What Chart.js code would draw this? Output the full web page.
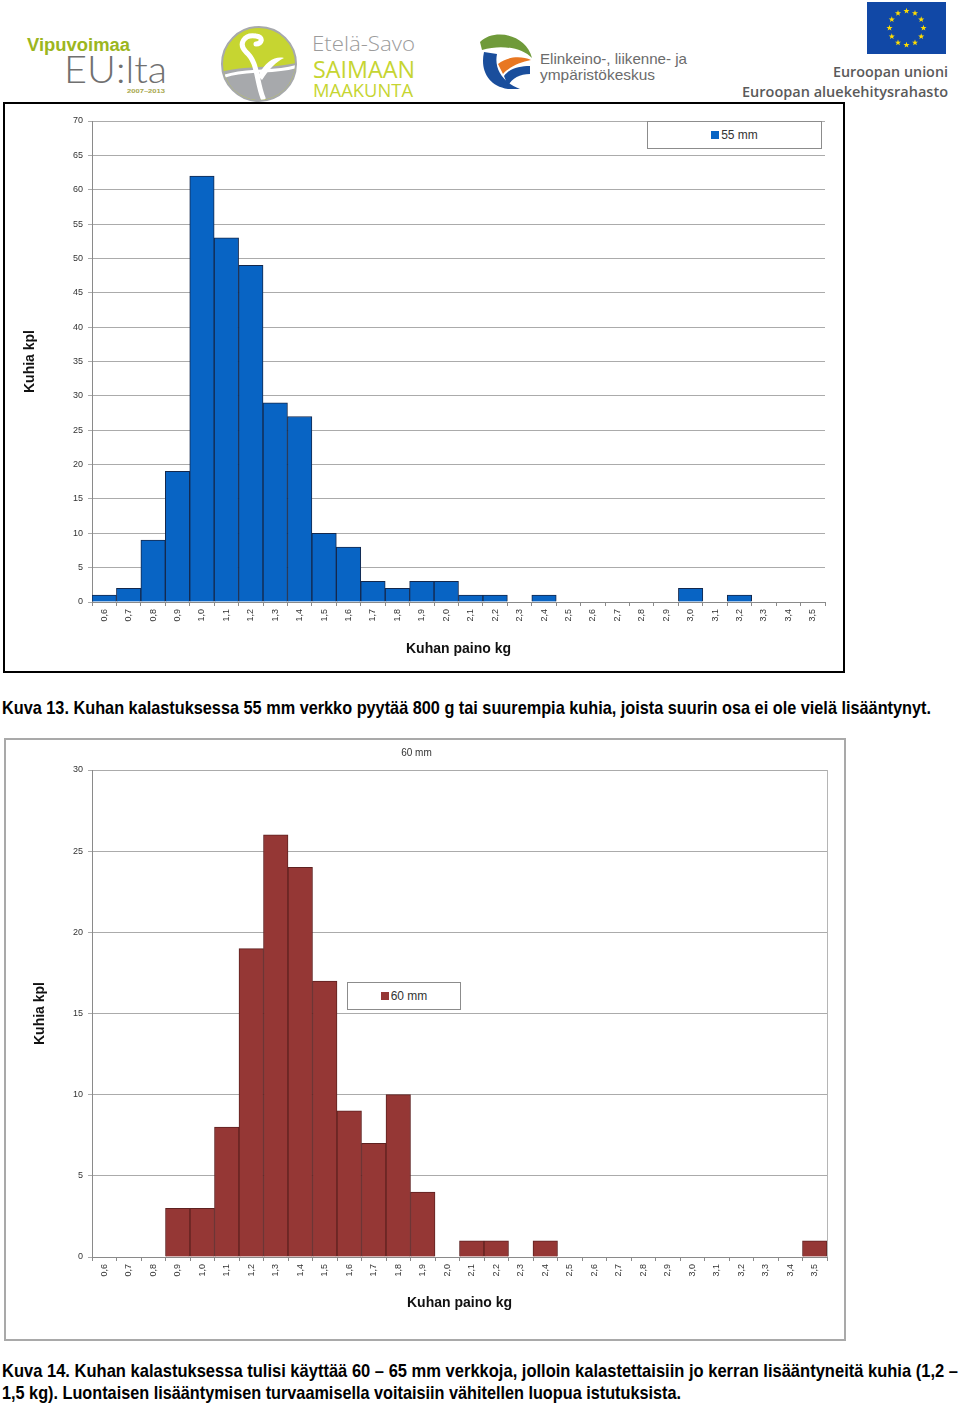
<!DOCTYPE html>
<html>
<head>
<meta charset="utf-8">
<script src="https://cdn.jsdelivr.net/npm/chart.js@4.4.1/dist/chart.umd.min.js"></script>
<style>
  body { margin: 0; background: #fff; width: 960px; height: 1406px; position: relative; overflow: hidden;
         font-family: "Liberation Sans", Arial, sans-serif; }
  .frame { position: absolute; box-sizing: content-box; }
  #frame1 { left: 3px; top: 102px; width: 838px; height: 567px; border: 2px solid #000; }
  #frame2 { left: 4px; top: 738px; width: 838px; height: 599px; border: 2px solid #a9a9a9; }
  .legend { position: absolute; background: #fff; border: 1px solid #8c8c8c; box-sizing: border-box;
            font: 12px "Liberation Sans", Arial, sans-serif; color: #333;
            display: flex; align-items: center; justify-content: center; }
  .legend i { display: inline-block; width: 8px; height: 8px; margin-right: 2px; }
  svg { position: absolute; left: 0; }
</style>
</head>
<body>

<!-- logo strip -->
<svg id="logos" width="960" height="102" style="top:0">
  <text x="27" y="51" font-family="Liberation Sans" font-weight="bold" font-size="18" fill="#9cb620"
        textLength="103" lengthAdjust="spacingAndGlyphs">Vipuvoimaa</text>
  <text x="64" y="83" font-family="Lato" font-weight="300" font-size="38" fill="#707070"
        textLength="103" lengthAdjust="spacingAndGlyphs">EU:lta</text>
  <text x="127" y="93" font-family="Liberation Sans" font-weight="bold" font-size="6" fill="#a6a64a"
        textLength="38" lengthAdjust="spacingAndGlyphs">2007–2013</text>

  <clipPath id="disc"><circle cx="259" cy="64" r="36"/></clipPath>
  <circle cx="259" cy="64" r="37" fill="#c6d531" stroke="#a7a9ac" stroke-width="2"/>
  <g clip-path="url(#disc)">
    <path d="M215,74 C240,64 270,70 300,62 L300,110 L215,110 Z" fill="#a7a9ac"/>
    <path d="M225,76 C250,68 275,74 298,66" stroke="#fff" stroke-width="3" fill="none"/>
    <path d="M263,98 C256,80 258,62 246,52 C238,44 244,34 256,36 C264,37 262,44 256,44"
          stroke="#fff" stroke-width="5" fill="none" stroke-linecap="round"/>
    <path d="M258,76 C266,60 276,56 284,58 C276,62 270,68 262,80 Z" fill="#fff"/>
  </g>
  <text x="312" y="51" font-family="Open Sans" font-weight="300" font-size="20" fill="#9b9b9b"
        textLength="103" lengthAdjust="spacingAndGlyphs">Etelä-Savo</text>
  <text x="313" y="78" font-family="Open Sans" font-size="23" fill="#c6d531"
        textLength="102" lengthAdjust="spacingAndGlyphs">SAIMAAN</text>
  <text x="313" y="97" font-family="Open Sans" font-size="19" fill="#c6d531"
        textLength="100" lengthAdjust="spacingAndGlyphs">MAAKUNTA</text>

  <path d="M480,42 C494,28 526,34 532,58 C522,48 502,44 482,50 Z" fill="#6f9a3a"/>
  <path d="M498,64 C508,56 522,56 531,60 C520,62 509,67 503,74 Z" fill="#e87722"/>
  <path d="M484,52 C480,70 488,86 508,89 L520,89 C502,82 494,68 497,54 Z" fill="#1a4e9c"/>
  <path d="M504,76 C510,68 520,66 530,66 L530,74 C520,74 512,78 508,86 Z" fill="#1a4e9c"/>
  <text x="540" y="64" font-family="Liberation Sans" font-size="15" fill="#6b6b6b"
        textLength="147" lengthAdjust="spacingAndGlyphs">Elinkeino-, liikenne- ja</text>
  <text x="540" y="80" font-family="Liberation Sans" font-size="15" fill="#6b6b6b"
        textLength="115" lengthAdjust="spacingAndGlyphs">ympäristökeskus</text>

  <rect x="867" y="2" width="79" height="52" fill="#1148a6"/>
  <g id="stars" fill="#ffdd00"></g>
  <text x="948" y="77" text-anchor="end" font-family="Open Sans" font-weight="600" font-size="14" fill="#5a5a5a"
        textLength="115" lengthAdjust="spacingAndGlyphs">Euroopan unioni</text>
  <text x="948" y="97" text-anchor="end" font-family="Open Sans" font-weight="600" font-size="14" fill="#5a5a5a"
        textLength="206" lengthAdjust="spacingAndGlyphs">Euroopan aluekehitysrahasto</text>
</svg>

<div class="frame" id="frame1"><canvas id="chart55"></canvas></div>
<div class="legend" id="legend55" style="left:647px;top:121px;width:175px;height:28px"></div>

<div class="frame" id="frame2"><canvas id="chart60"></canvas></div>
<div class="legend" id="legend60" style="left:347px;top:982px;width:114px;height:28px"></div>

<svg width="960" height="30" style="top:692px">
  <text x="2" y="22" font-family="Liberation Sans Narrow, Liberation Sans" font-weight="bold" font-size="19" fill="#000"
        textLength="929" lengthAdjust="spacingAndGlyphs">Kuva 13. Kuhan kalastuksessa 55 mm verkko pyytää 800 g tai suurempia kuhia, joista suurin osa ei ole vielä lisääntynyt.</text>
</svg>
<svg width="960" height="52" style="top:1354px">
  <text x="2" y="23" font-family="Liberation Sans Narrow, Liberation Sans" font-weight="bold" font-size="19" fill="#000"
        textLength="956" lengthAdjust="spacingAndGlyphs">Kuva 14. Kuhan kalastuksessa tulisi käyttää 60 – 65 mm verkkoja, jolloin kalastettaisiin jo kerran lisääntyneitä kuhia (1,2 –</text>
  <text x="2" y="45" font-family="Liberation Sans Narrow, Liberation Sans" font-weight="bold" font-size="19" fill="#000"
        textLength="679" lengthAdjust="spacingAndGlyphs">1,5 kg). Luontaisen lisääntymisen turvaamisella voitaisiin vähitellen luopua istutuksista.</text>
</svg>

<script>
// weight classes (kg), as printed under the bars
const weights = ["0,6", "0,7", "0,8", "0,9", "1,0", "1,1", "1,2", "1,3", "1,4", "1,5",
                 "1,6", "1,7", "1,8", "1,9", "2,0", "2,1", "2,2", "2,3", "2,4", "2,5",
                 "2,6", "2,7", "2,8", "2,9", "3,0", "3,1", "3,2", "3,3", "3,4", "3,5"];
// pikeperch caught per weight class
const catch55 = [1, 2, 9, 19, 62, 53, 49, 29, 27, 10, 8, 3, 2, 3, 3, 1, 1, 0, 1, 0,
                 0, 0, 0, 0, 2, 0, 1, 0, 0, 0];
const catch60 = [0, 0, 0, 3, 3, 8, 19, 26, 24, 17, 9, 7, 10, 4, 0, 1, 1, 0, 1, 0,
                 0, 0, 0, 0, 0, 0, 0, 0, 0, 1];
const ticks55 = { max: 70, step: 5 };
const ticks60 = { max: 30, step: 5 };

// EU flag stars, 12 round the ring
(function () {
  const g = document.getElementById("stars");
  const ns = "http://www.w3.org/2000/svg";
  for (let k = 0; k < 12; k++) {
    const a = k * Math.PI / 6;
    const cx = 906.5 + 17 * Math.sin(a), cy = 28 - 17 * Math.cos(a);
    let d = "";
    for (let j = 0; j < 10; j++) {
      const r = j % 2 ? 1.3 : 3.2, b = j * Math.PI / 5;
      d += (j ? "L" : "M") + (cx + r * Math.sin(b)).toFixed(2) + "," + (cy - r * Math.cos(b)).toFixed(2);
    }
    const p = document.createElementNS(ns, "path");
    p.setAttribute("d", d + "Z");
    g.append(p);
  }
})();

const TICK_FONT = { family: "'Liberation Sans', Arial, sans-serif", size: 9 };
const TITLE_FONT = { family: "'Liberation Sans', Arial, sans-serif", size: 14, weight: "bold" };
const GRID = "#ababab";
const AXIS = "#8a8a8a";

// the 60 mm plot has a thin frame on its right side
const rightEdge = {
  id: "rightEdge",
  afterDraw(chart, _, opts) {
    if (!opts.on) return;
    const { ctx, chartArea: a } = chart;
    ctx.save();
    ctx.strokeStyle = "#b5b5b5";
    ctx.lineWidth = 1;
    ctx.beginPath();
    ctx.moveTo(Math.round(a.right) + 0.5, a.top);
    ctx.lineTo(Math.round(a.right) + 0.5, a.bottom);
    ctx.stroke();
    ctx.restore();
  },
};

function histogram(id, values, o) {
  const legend = document.getElementById(o.legendId);
  legend.innerHTML = `<i style="background:${o.fill}"></i>${o.label}`;

  return new Chart(document.getElementById(id), {
    type: "bar",
    data: {
      labels: weights,
      datasets: [{
        label: o.label,
        data: values,
        backgroundColor: o.fill,
        borderColor: o.edge,
        borderWidth: 1,
        categoryPercentage: 1,
        barPercentage: 1,
      }],
    },
    options: {
      responsive: true,
      maintainAspectRatio: false,
      animation: false,
      layout: { padding: { left: 0, right: o.padRight, top: o.padTop, bottom: 0 } },
      plugins: {
        legend: { display: false },
        tooltip: { enabled: false },
        title: o.title
          ? { display: true, text: o.title, color: "#333", font: { family: TICK_FONT.family, size: 10, weight: "normal" },
              padding: { top: 7, bottom: 11 } }
          : { display: false },
        rightEdge: { on: !!o.rightEdge },
      },
      scales: {
        x: {
          grid: { drawOnChartArea: false, color: AXIS, tickLength: 4 },
          border: { color: AXIS },
          ticks: { minRotation: 90, maxRotation: 90, autoSkip: false, padding: 3, color: "#333", font: TICK_FONT },
          title: { display: true, text: "Kuhan paino kg", color: "#111", font: TITLE_FONT,
                   padding: { top: 0, bottom: o.xTitlePad } },
          afterFit: (s) => { s.height = o.xAxisH; },
        },
        y: {
          min: 0,
          max: o.ticks.max,
          ticks: { stepSize: o.ticks.step, padding: 5, color: "#333", font: TICK_FONT },
          grid: { color: GRID, tickLength: 4 },
          border: { color: AXIS },
          title: { display: true, text: "Kuhia kpl", color: "#111", font: TITLE_FONT,
                   padding: { top: o.yTitlePad, bottom: 0 } },
          afterFit: (s) => { s.width = o.yAxisW; },
        },
      },
    },
    plugins: [rightEdge],
  });
}

histogram("chart55", catch55, {
  label: "55 mm", legendId: "legend55", fill: "#0864c4", edge: "#14284c", ticks: ticks55,
  padTop: 17, padRight: 18, yAxisW: 87, xAxisH: 69, yTitlePad: 17, xTitlePad: 13,
});

histogram("chart60", catch60, {
  label: "60 mm", legendId: "legend60", fill: "#953735", edge: "#5e2120", ticks: ticks60, title: "60 mm",
  padTop: 0, padRight: 17, yAxisW: 86, xAxisH: 82, yTitlePad: 26, xTitlePad: 27, rightEdge: true,
});
</script>
</body>
</html>
